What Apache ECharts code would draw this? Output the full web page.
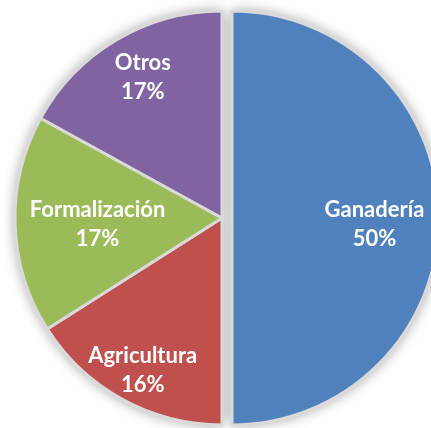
<!DOCTYPE html>
<html><head><meta charset="utf-8">
<script src="https://cdn.jsdelivr.net/npm/echarts@6/dist/echarts.min.js"></script>
<style>html,body{margin:0;padding:0;background:#fff}#c{width:431px;height:428px}</style>
</head><body><div id="c"></div>
<script>
const categories = ['Ganadería', 'Agricultura', 'Formalización', 'Otros'];
const values = [50, 16, 17, 17];
const colors = ['#4F81BD', '#C0504D', '#9BBB59', '#8064A2'];
const labelShift = [[36, 6], [-28, 59], [-18, 3], [-25, -49]];

const chart = echarts.init(document.getElementById('c'), null, {renderer: 'canvas'});
const mainData = categories.map((n, i) => ({name: n, value: values[i], selected: i === 0, itemStyle: {color: colors[i]}}));
const shadowData = categories.map((n, i) => ({name: n, value: values[i], selected: i === 0}));
const common = {
  type: 'pie', center: [222, 218], radius: 207, startAngle: 90, clockwise: true,
  selectedMode: 'single', selectedOffset: 10, emphasis: {disabled: true}
};
chart.setOption({
  animation: false,
  series: [
    Object.assign({}, common, {
      silent: true, z: 1,
      label: {show: false}, labelLine: {show: false},
      itemStyle: {color: '#d0d0d0', shadowBlur: 14, shadowColor: 'rgba(0,0,0,0.4)'},
      select: {itemStyle: {color: '#d0d0d0'}},
      data: shadowData
    }),
    Object.assign({}, common, {
      z: 2,
      itemStyle: {borderColor: '#dadada', borderWidth: 3},
      select: {itemStyle: {borderColor: '#dadada', borderWidth: 3}},
      label: {
        show: true, position: 'inside',
        formatter: p => p.name + '\n' + p.value + '%',
        color: '#fff', fontFamily: 'Lato', fontWeight: 'bold', fontSize: 22, lineHeight: 29
      },
      labelLine: {show: false},
      labelLayout: p => ({dx: labelShift[p.dataIndex][0], dy: labelShift[p.dataIndex][1]}),
      data: mainData
    })
  ]
});
</script>
</body></html>
